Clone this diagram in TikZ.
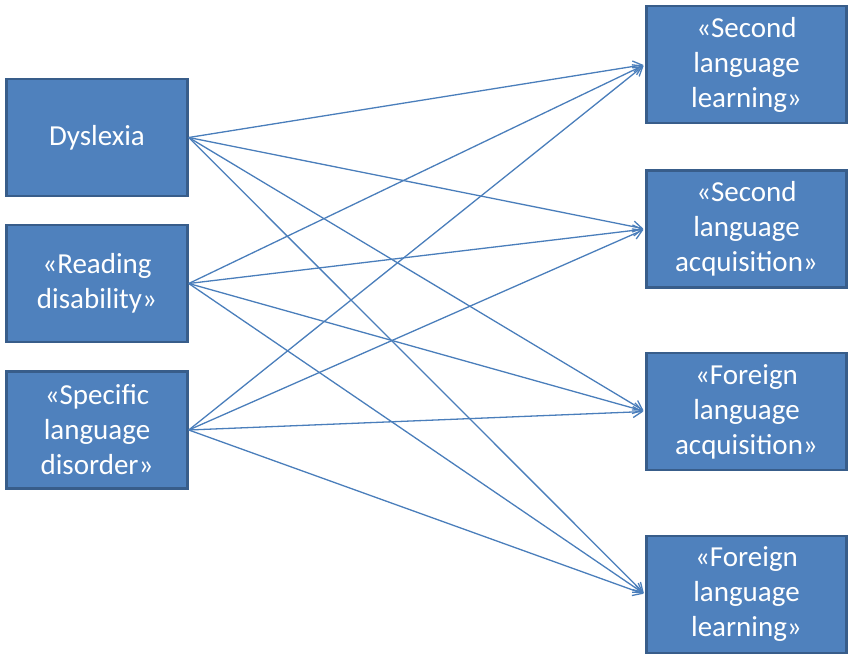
\documentclass[tikz,border=0pt]{standalone}
\usepackage{fontspec}
\setmainfont{Carlito}
\usetikzlibrary{arrows.meta}
\definecolor{boxfill}{HTML}{4F81BD}
\definecolor{boxline}{HTML}{385D8A}
\definecolor{linkcol}{HTML}{4A7EBB}
\begin{document}
\begin{tikzpicture}[x=1pt,y=-1pt,
	term/.style={rectangle,draw=boxline,fill=boxfill,line width=2.5pt,text=white,align=center,
		minimum width=#1,minimum height=117pt,inner sep=0pt,font=\fontsize{29}{35}\selectfont},
	link/.style={draw=linkcol,line width=1.3pt,-{Straight Barb[length=9pt,width=11pt]},shorten >=2pt}]
\useasboundingbox (0,0) rectangle (849,655);
% left column
\node [term=181pt] (dys) at (97,137.5) {Dyslexia};
\node [term=181pt] (rd) at (97,283.5) {«Reading\\disability»};
\node [term=181pt] (sld) at (97,430) {«Specific\\language\\disorder»};
% right column
\node [term=200pt] (sll) at (746.5,64.5) {«Second\\language\\learning»};
\node [term=200pt] (sla) at (746.5,229) {«Second\\language\\acquisition»};
\node [term=200pt] (fla) at (746.5,411.5) {«Foreign\\language\\acquisition»};
\node [term=200pt] (fll) at (746.5,594.5) {«Foreign\\language\\learning»};
% every term on the left points to every term on the right
\foreach \s in {dys,rd,sld}
	\foreach \t in {sll,sla,fla,fll}
		\draw [link] (\s.east) -- (\t.west);
\end{tikzpicture}
\end{document}
